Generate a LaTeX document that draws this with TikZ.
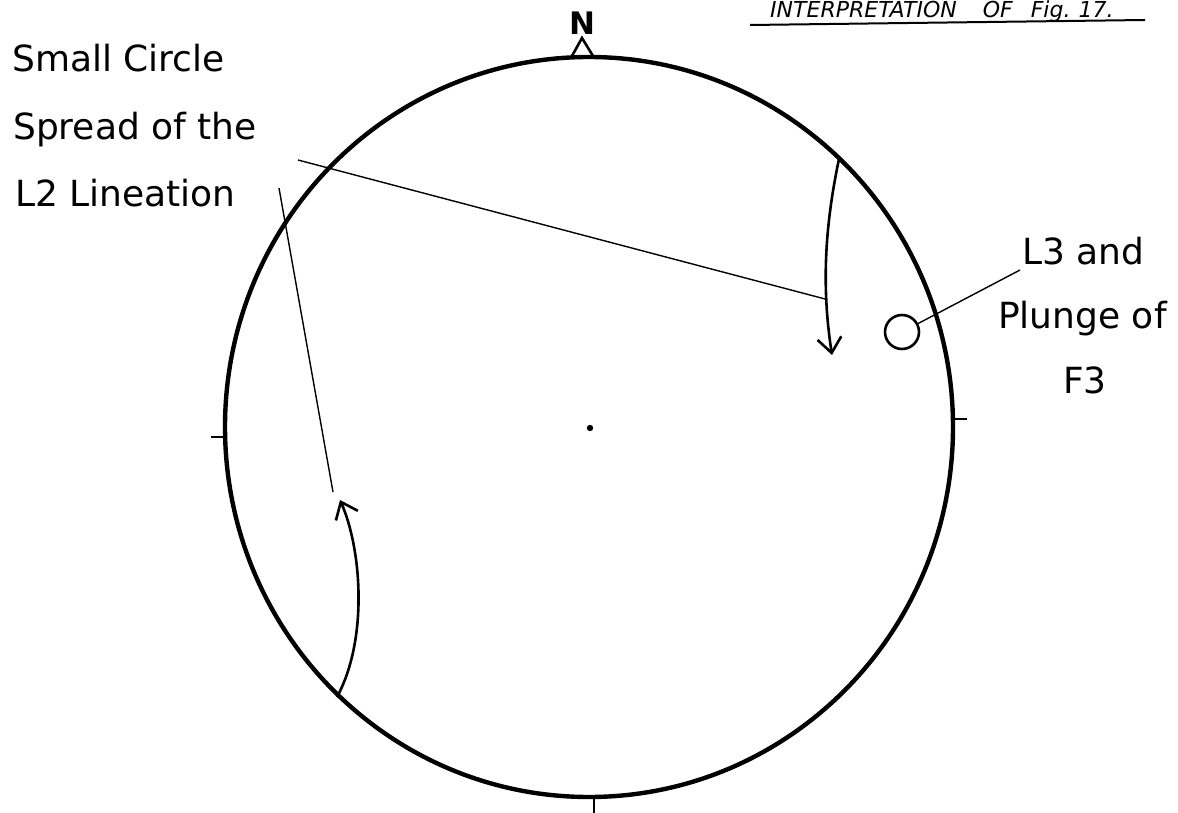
\documentclass[tikz,border=0pt]{standalone}
\usepackage{fontspec}
\setmainfont{DejaVu Sans}
\usetikzlibrary{arrows.meta}
\begin{document}
\begin{tikzpicture}[x=1pt,y=-1pt,
  lbl/.style={anchor=base west,inner sep=0pt,font=\fontsize{36}{40}\selectfont},
  thick line/.style={line width=4.4pt},
  curve/.style={line width=2.6pt,-{Straight Barb[length=15pt,width=24pt,line width=2.6pt]}},
  leader/.style={line width=1.4pt},
  tick/.style={line width=2.6pt}]
\useasboundingbox (0,0) rectangle (1178,813);
% title
\node[anchor=base west,inner sep=0pt,font=\fontsize{22}{24}\selectfont\itshape] (title) at (770,18) {INTERPRETATION\hspace{26pt}OF\hspace{18pt}Fig.\hspace{8pt}17.};
\draw[line width=2pt] (750,25) -- (1145,20);
% net
\draw[thick line] (589,427) ellipse [x radius=364, y radius=370];
\fill (590,428) circle (3.2);
% north mark and ticks
\node[anchor=base,inner sep=0pt,font=\fontsize{31}{34}\selectfont\bfseries] (N) at (582,35) {N};
\draw[tick,line join=miter] (572,56) -- (582,38) -- (593,56);
\draw[tick] (211,437) -- (225,437);
\draw[tick] (953,419) -- (967,419);
\draw[tick] (594,797) -- (594,813);
% labels
\node[lbl] (sc1) at (12,72) {Small Circle};
\node[lbl] (sc2) at (13,140) {Spread of the};
\node[lbl] (sc3) at (15,207) {L2 Lineation};
\node[lbl] (l31) at (1022,265) {L3 and};
\node[lbl] (l32) at (998,328) {Plunge of};
\node[lbl] (l33) at (1063,393) {F3};
% L3 pole
\node[draw,circle,line width=2.6pt,minimum size=34pt,inner sep=0pt] (pole) at (902,332) {};
\coordinate (l3lead) at (1020,270);
\draw[leader] (l3lead) -- (pole);
% small circle arcs
\coordinate (rs) at (839,159);
\coordinate (rt) at (832,355);
\draw[curve] (rs) .. controls (824,230) and (822,290) .. (rt) coordinate[pos=0.71] (rj);
\coordinate (ls) at (337,697);
\coordinate (lt) at (340,500);
\draw[curve] (ls) .. controls (368,640) and (362,550) .. (lt);
% leaders from the label
\coordinate (lead1) at (298,160);
\coordinate (lead2) at (279,188);
\coordinate (lend) at (333,492);
\draw[leader] (lead1) -- (rj);
\draw[leader] (lead2) -- (lend);
\end{tikzpicture}
\end{document}
